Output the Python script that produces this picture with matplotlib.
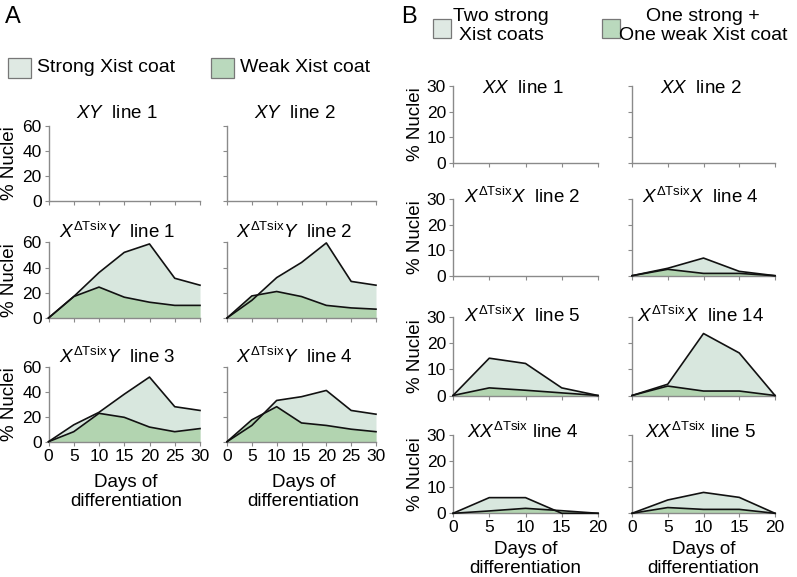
import matplotlib
matplotlib.use("Agg")
import matplotlib.pyplot as plt
from matplotlib.patches import Rectangle

plt.rcParams['font.family'] = ['Liberation Sans', 'DejaVu Sans']
plt.rcParams['mathtext.fontset'] = 'custom'
plt.rcParams['mathtext.rm'] = 'Liberation Sans'
plt.rcParams['mathtext.it'] = 'Liberation Sans:italic'
plt.rcParams['mathtext.bf'] = 'Liberation Sans:bold'

# ---------------- data ----------------
days_A = [0, 5, 10, 15, 20, 25, 30]
days_B = [0, 5, 10, 15, 20]

yticks_A = [0, 20, 40, 60]
yticks_B = [0, 10, 20, 30]

legend_A = ["Strong Xist coat", "Weak Xist coat"]
legend_B = ["Two strong\nXist coats", "One strong +\nOne weak Xist coat"]

titles_A = [r"$\mathit{XY}$  line 1", r"$\mathit{XY}$  line 2",
            r"$\mathit{X}^{\Delta\mathrm{Tsix}}\mathit{Y}$  line 1",
            r"$\mathit{X}^{\Delta\mathrm{Tsix}}\mathit{Y}$  line 2",
            r"$\mathit{X}^{\Delta\mathrm{Tsix}}\mathit{Y}$  line 3",
            r"$\mathit{X}^{\Delta\mathrm{Tsix}}\mathit{Y}$  line 4"]
titles_B = [r"$\mathit{XX}$  line 1", r"$\mathit{XX}$  line 2",
            r"$\mathit{X}^{\Delta\mathrm{Tsix}}\mathit{X}$  line 2",
            r"$\mathit{X}^{\Delta\mathrm{Tsix}}\mathit{X}$  line 4",
            r"$\mathit{X}^{\Delta\mathrm{Tsix}}\mathit{X}$  line 5",
            r"$\mathit{X}^{\Delta\mathrm{Tsix}}\mathit{X}$  line 14",
            r"$\mathit{XX}^{\Delta\mathrm{Tsix}}$ line 4",
            r"$\mathit{XX}^{\Delta\mathrm{Tsix}}$ line 5"]

# Panel A: strong / weak Xist coat (% nuclei); None = no data drawn
strong_XY1 = None
weak_XY1 = None
strong_XY2 = None
weak_XY2 = None
strong_XTY1 = [0, 17, 36, 52, 58.7, 31.5, 26]
weak_XTY1 = [0, 17, 24.5, 16.5, 12.5, 10, 10]
strong_XTY2 = [0, 14, 32, 44, 59.5, 29, 26]
weak_XTY2 = [0, 17.5, 21, 17, 10, 8, 7]
strong_XTY3 = [0, 13.5, 23.5, 38, 51.7, 28, 25]
weak_XTY3 = [0, 8, 22.7, 19.5, 11.7, 8, 10.5]
strong_XTY4 = [0, 13, 33, 36, 41, 25, 22]
weak_XTY4 = [0, 17.5, 28, 15, 13, 10, 8]

# Panel B: two strong / one strong + one weak
strong_XX1 = None
weak_XX1 = None
strong_XX2 = None
weak_XX2 = None
strong_XTX2 = None
weak_XTX2 = None
strong_XTX4 = [0, 2.9, 6.9, 1.7, 0]
weak_XTX4 = [0, 2.5, 0.9, 0.9, 0]
strong_XTX5 = [0, 14.2, 12.2, 2.9, 0]
weak_XTX5 = [0, 2.9, 2.0, 1.0, 0]
strong_XTX14 = [0, 4.3, 23.6, 16.2, 0]
weak_XTX14 = [0, 3.6, 1.7, 1.7, 0]
strong_XXT4 = [0, 6, 6, 0, 0]
weak_XXT4 = [0, 0.9, 1.9, 1.0, 0]
strong_XXT5 = [0, 5.1, 8, 6.1, 0]
weak_XXT5 = [0, 2.2, 1.5, 1.5, 0]

series_A = [(strong_XY1, weak_XY1), (strong_XY2, weak_XY2),
            (strong_XTY1, weak_XTY1), (strong_XTY2, weak_XTY2),
            (strong_XTY3, weak_XTY3), (strong_XTY4, weak_XTY4)]
series_B = [(strong_XX1, weak_XX1), (strong_XX2, weak_XX2),
            (strong_XTX2, weak_XTX2), (strong_XTX4, weak_XTX4),
            (strong_XTX5, weak_XTX5), (strong_XTX14, weak_XTX14),
            (strong_XXT4, weak_XXT4), (strong_XXT5, weak_XXT5)]

# ---------------- style ----------------
W, H = 797, 577
LIGHT = "#d8e7de"
GREEN = "#b2d4b0"
SPINE = "#8a8a8a"
LINE = "#111111"
FS_TICK = 12.5
FS_TEXT = 13.5

fig = plt.figure(figsize=(W / 100, H / 100), dpi=100)


def add_ax(x0, x1, ytop, ybot):
    return fig.add_axes([x0 / W, 1 - ybot / H, (x1 - x0) / W, (ybot - ytop) / H])


def style(ax, xmax, ymax, yticks, xticks, show_ylab, show_xlab):
    ax.set_xlim(0, xmax)
    ax.set_ylim(0, ymax)
    for s in ("top", "right"):
        ax.spines[s].set_visible(False)
    for s in ("left", "bottom"):
        ax.spines[s].set_color(SPINE)
        ax.spines[s].set_linewidth(1.0)
    ax.set_yticks(yticks)
    ax.set_xticks(xticks)
    ax.tick_params(axis="both", colors=SPINE, length=3, width=0.8,
                   labelsize=FS_TICK, labelcolor="black", pad=2)
    if not show_ylab:
        ax.set_yticklabels([])
    if not show_xlab:
        ax.set_xticklabels([])
    ax.patch.set_alpha(0)


def draw(ax, x, strong, weak):
    if strong is None:
        return
    ax.fill_between(x, 0, strong, color=LIGHT, lw=0, zorder=1)
    ax.fill_between(x, 0, weak, color=GREEN, lw=0, zorder=2)
    ax.plot(x, strong, color=LINE, lw=1.2, zorder=3, clip_on=False)
    ax.plot(x, weak, color=LINE, lw=1.2, zorder=3, clip_on=False)


# ---------------- panel A ----------------
colsA = [(48.5, 200), (227, 376)]
rowsA = [(125.7, 200.7), (242.3, 318), (366.7, 441.7)]
title_baseA = [118, 238, 363]
k = 0
for r, (yt, yb) in enumerate(rowsA):
    for c, (x0, x1) in enumerate(colsA):
        ax = add_ax(x0, x1, yt, yb)
        style(ax, 30, 60, yticks_A, days_A, c == 0, r == 2)
        s, w = series_A[k]
        draw(ax, days_A, s, w)
        fig.text((x0 + x1) / 2 / W - 7 / W, 1 - title_baseA[r] / H, titles_A[k],
                 ha="center", va="baseline", fontsize=FS_TEXT)
        if c == 0:
            fig.text(10 / W, 1 - (yt + yb) / 2 / H, "% Nuclei", rotation=90,
                     ha="center", va="center", fontsize=FS_TEXT)
        if r == 2:
            fig.text((x0 + x1) / 2 / W + 2 / W, 1 - 492 / H, "Days of\ndifferentiation",
                     ha="center", va="center", fontsize=FS_TEXT, linespacing=1.2)
        k += 1

# legend A
fig.text(5 / W, 1 - 17 / H, "A", fontsize=17, ha="left", va="center")
for (px, tx), lab, col in zip([(8, 37), (211, 240)], legend_A, ["#dfe9e3", "#bad9bd"]):
    fig.patches.append(Rectangle((px / W, 1 - 78 / H), 23 / W, 20 / H,
                                 transform=fig.transFigure, facecolor=col,
                                 edgecolor="#777777", lw=0.9))
    fig.text(tx / W, 1 - 68 / H, lab, ha="left", va="center", fontsize=FS_TEXT + 0.5)

# ---------------- panel B ----------------
colsB = [(453, 598), (632, 775)]
rowsB = [(86, 163), (199, 275.7), (316.7, 395.5), (435, 513.3)]
title_baseB = [93, 203, 321.7, 438]
k = 0
for r, (yt, yb) in enumerate(rowsB):
    for c, (x0, x1) in enumerate(colsB):
        ax = add_ax(x0, x1, yt, yb)
        style(ax, 20, 30, yticks_B, days_B, c == 0, r == 3)
        s, w = series_B[k]
        draw(ax, days_B, s, w)
        fig.text((x0 + x1) / 2 / W - 3 / W, 1 - title_baseB[r] / H, titles_B[k],
                 ha="center", va="baseline", fontsize=FS_TEXT)
        if c == 0:
            fig.text(416 / W, 1 - (yt + yb) / 2 / H, "% Nuclei", rotation=90,
                     ha="center", va="center", fontsize=FS_TEXT)
        if r == 3:
            fig.text((x0 + x1) / 2 / W, 1 - 559 / H, "Days of\ndifferentiation",
                     ha="center", va="center", fontsize=FS_TEXT, linespacing=1.2)
        k += 1

fig.text(401 / W, 1 - 17 / H, "B", fontsize=17, ha="left", va="center")
for (px, tx), lab, col in zip([(433, 501), (602, 703)], legend_B, ["#dfe9e3", "#bad9bd"]):
    fig.patches.append(Rectangle((px / W, 1 - 38 / H), 18 / W, 19 / H,
                                 transform=fig.transFigure, facecolor=col,
                                 edgecolor="#777777", lw=0.9))
    fig.text(tx / W, 1 - 26 / H, lab, ha="center", va="center", fontsize=FS_TEXT + 0.5,
             linespacing=1.15)

fig.savefig("out.png", dpi=100)
